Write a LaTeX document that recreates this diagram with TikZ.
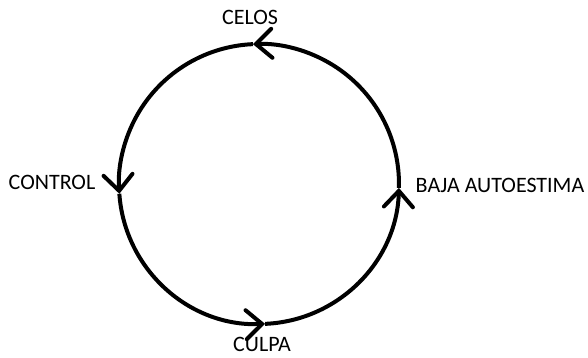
\documentclass[tikz,border=0pt]{standalone}
\usepackage{fontspec}
\setmainfont{Carlito}
\usepackage{tikz}
\usetikzlibrary{arrows.meta,calc}

\begin{document}
\begin{tikzpicture}[x=1pt,y=1pt,every node/.style={font=\fontsize{22}{26}\selectfont,inner sep=0pt}]
    \tikzstyle{ring}=[line width=4pt,-{Straight Barb[length=16pt,width=29pt,line cap=round]}];
    \useasboundingbox (0,0) rectangle (588,357);
    \coordinate (o) at (259,173);
    % points on the cycle
    \coordinate (celos) at ($(o)+(92.5:140)$);
    \coordinate (control) at ($(o)+(184:140)$);
    \coordinate (culpa) at ($(o)+(272.5:140)$);
    \coordinate (baja) at ($(o)+(-1.6:140)$);
    \draw[ring] (baja) arc[start angle=-1.6,end angle=92.5,radius=140];
    \draw[ring] (celos) arc[start angle=92.5,end angle=184,radius=140];
    \draw[ring] (control) arc[start angle=184,end angle=272.5,radius=140];
    \draw[ring] (culpa) arc[start angle=272.5,end angle=358.4,radius=140];
    \node (lcelos) at (250,340) {CELOS};
    \node (lcontrol) at (52,175) {CONTROL};
    \node (lculpa) at (262,13) {CULPA};
    \node (lbaja) at (500,172) {BAJA AUTOESTIMA};
\end{tikzpicture}
\end{document}
